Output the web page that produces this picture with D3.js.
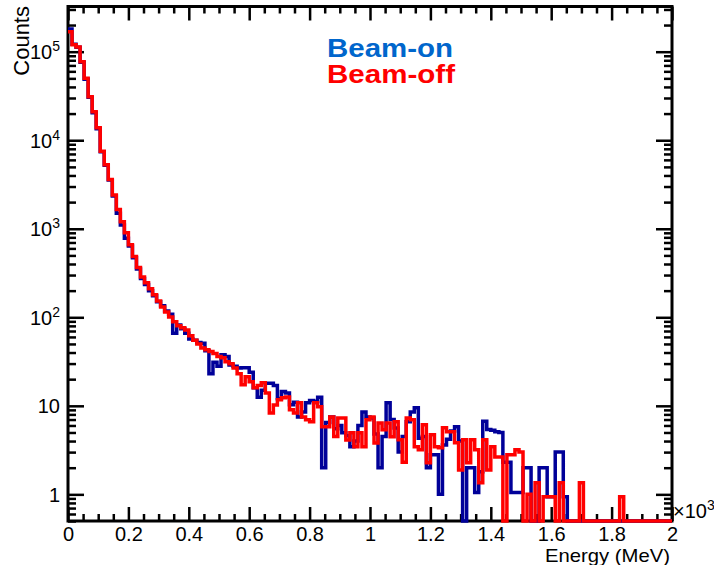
<!DOCTYPE html>
<html>
<head>
<meta charset="utf-8">
<script src="https://cdn.jsdelivr.net/npm/d3@7"></script>
<style>
  body { margin: 0; background: #fff; }
  text { font-family: "Liberation Sans", Arial, Helvetica, sans-serif; }
</style>
</head>
<body>
<svg id="chart" width="714" height="565"></svg>
<script>
// histogram binning (keV)
const nBins = 150
const eMin = 0
const eMax = 2000

// counts per bin
const beamOn = [
  180000, 121000, 112000, 76000, 49000, 30500, 20500, 13500, 7400, 5200,
  3550, 2350, 1500, 1100, 780, 640, 470, 350, 275, 235,
  200, 175, 150, 135, 118, 108, 66, 82, 74, 66,
  57, 55, 52, 51, 42, 23, 31, 28, 37.7, 36,
  29, 28, 26.8, 27, 27, 24, 16, 12.5, 15, 18,
  18, 17, 12, 14.5, 14, 10.3, 11, 7.5, 8.5, 10.8,
  11.5, 11.2, 12.5, 2.0, 6.5, 7.5, 5.5, 6, 4.95, 4.6,
  3.44, 4.0, 6, 8.5, 7.5, 7.3, 4.8, 2.0, 4.5, 10.8,
  7, 5.6, 3.0, 4.5, 6.6, 8.5, 9.5, 4.3, 4.5, 2.0,
  2.8, 2.8, 1.0, 3.6, 4.2, 5.2, 5.8, 4.0, 0, 2.0,
  2.0, 1.05, 1.8, 6.7, 5.4, 5.3, 5.1, 5.0, 2.3, 2.3,
  1.05, 1.05, 1.05, 2.0, 2.0, 0, 0, 2.0, 2.0, 0.94,
  0.94, 3.0, 3.0, 0.94, 0, 0, 0, 0, 0, 0,
  0, 0, 0, 0, 0, 0, 0, 0, 0, 0,
  0, 0, 0, 0, 0, 0, 0, 0, 0, 0
]

const beamOff = [
  168000, 120000, 113000, 77000, 50000, 31000, 21000, 13800, 7500, 5300,
  3600, 2400, 1650, 1200, 900, 660, 485, 365, 285, 245,
  210, 180, 153, 131, 115, 101, 89, 80, 76, 72,
  62, 55, 50, 45, 43, 41, 39, 36, 35, 31.4,
  29.8, 26.8, 23, 17.3, 21.3, 18.7, 16, 17, 18.2, 14,
  8.3, 10.2, 11.7, 12.3, 12.6, 9.0, 8.3, 10.8, 7.5, 6.95,
  6.6, 10.8, 9.75, 5.8, 5.8, 7.5, 4.5, 7.3, 7.3, 4.1,
  4.95, 3.44, 4.95, 3.44, 6.95, 7.5, 3.8, 6.4, 5.35, 6.4,
  4.47, 6.6, 4.13, 2.3, 7.3, 6.95, 3.44, 3.18, 6.1, 2.27,
  4.7, 3.44, 3.35, 5.65, 5.1, 5.1, 3.82, 1.89, 4.13, 2.27,
  4.13, 3.18, 1.35, 4.13, 1.89, 3.44, 2.65, 2.65, 0, 2.8,
  2.8, 3.18, 3.0, 0, 1.0, 0, 1.35, 0, 0.94, 0.94,
  0.94, 0, 1.35, 0, 0, 0, 0, 1.35, 0, 0,
  0, 0, 0, 0, 0, 0, 0, 0.94, 0, 0,
  0, 0, 0, 0, 0, 0, 0, 0, 0, 0
]

const xMajor = [0, 200, 400, 600, 800, 1000, 1200, 1400, 1600, 1800, 2000]
const xLabels = ['0', '0.2', '0.4', '0.6', '0.8', '1', '1.2', '1.4', '1.6', '1.8', '2']
const yMajor = [1, 10, 100, 1000, 10000, 100000]
const yLabelBase = ['1', '10', '10', '10', '10', '10']
const yLabelExp = ['', '', '2', '3', '4', '5']

const yMin = 0.5
const yMax = 324000

const svg = d3.select('#chart')
const xScale = d3.scaleLinear().domain([eMin, eMax]).range([68, 672])
const yScale = d3.scaleLog().domain([yMin, yMax]).range([521, 6.5])

// minor ticks
let xMinor = d3.range(eMin, eMax + 1, 50).filter(v => v % 200 !== 0)
let yMinor = []
for (let d = 0.1; d <= 100000; d *= 10) {
  for (let m = 2; m <= 9; m++) {
    let v = +(m * d).toPrecision(3)
    if (v >= yMin && v <= yMax) yMinor.push(v)
  }
}

function addAxis (axis, transform) {
  let g = svg.append('g').attr('transform', transform).call(axis)
  g.select('.domain').remove()
  g.selectAll('line').attr('stroke', '#000').attr('stroke-width', 2.5)
  return g
}

// bottom
let xAxis = addAxis(d3.axisBottom(xScale).tickValues(xMajor).tickSizeInner(-14).tickSizeOuter(0)
  .tickPadding(6).tickFormat((d, i) => xLabels[i]), 'translate(0,521)')
xAxis.selectAll('text').attr('font-size', 20).attr('fill', '#000')
addAxis(d3.axisBottom(xScale).tickValues(xMinor).tickSizeInner(-7).tickSizeOuter(0).tickFormat(''), 'translate(0,521)')
// top
addAxis(d3.axisTop(xScale).tickValues(xMajor).tickSizeInner(-14).tickSizeOuter(0).tickFormat(''), 'translate(0,6.5)')
addAxis(d3.axisTop(xScale).tickValues(xMinor).tickSizeInner(-7).tickSizeOuter(0).tickFormat(''), 'translate(0,6.5)')
// left
addAxis(d3.axisLeft(yScale).tickValues(yMajor).tickSizeInner(-16).tickSizeOuter(0).tickFormat(''), 'translate(68,0)')
addAxis(d3.axisLeft(yScale).tickValues(yMinor).tickSizeInner(-8).tickSizeOuter(0).tickFormat(''), 'translate(68,0)')
// right
addAxis(d3.axisRight(yScale).tickValues(yMajor).tickSizeInner(-16).tickSizeOuter(0).tickFormat(''), 'translate(672,0)')
addAxis(d3.axisRight(yScale).tickValues(yMinor).tickSizeInner(-8).tickSizeOuter(0).tickFormat(''), 'translate(672,0)')

// y labels with exponents
let yl = svg.append('g').selectAll('text').data(yMajor).enter()
  .append('text')
  .attr('x', 60)
  .attr('y', d => yScale(d) + 7.5)
  .attr('text-anchor', 'end')
  .attr('font-size', 20)
yl.append('tspan').text((d, i) => yLabelBase[i])
yl.append('tspan').attr('font-size', 14).attr('dy', -8).text((d, i) => yLabelExp[i])

// frame
svg.append('rect')
  .attr('x', xScale(eMin)).attr('y', yScale(yMax))
  .attr('width', xScale(eMax) - xScale(eMin))
  .attr('height', yScale(yMin) - yScale(yMax))
  .attr('fill', 'none').attr('stroke', '#000').attr('stroke-width', 3)

// histograms
const edges = d3.range(nBins + 1).map(i => eMin + i * (eMax - eMin) / nBins)
const stepLine = d3.line()
  .x(d => xScale(d[0]))
  .y(d => yScale(Math.max(d[1], yMin)))
  .curve(d3.curveStepAfter)

function histPoints (values) {
  let pts = values.map((v, i) => [edges[i], v])
  pts.push([edges[nBins], values[nBins - 1]])
  return pts
}

svg.append('path').attr('d', stepLine(histPoints(beamOn)))
  .attr('fill', 'none').attr('stroke', '#000099').attr('stroke-width', 3.5)
svg.append('path').attr('d', stepLine(histPoints(beamOff)))
  .attr('fill', 'none').attr('stroke', '#ff0000').attr('stroke-width', 3.5)

// legend
svg.append('text').attr('x', 327).attr('y', 57)
  .attr('font-size', 25).attr('font-weight', 'bold').attr('fill', '#0066cc')
  .attr('textLength', 126).attr('lengthAdjust', 'spacingAndGlyphs')
  .text('Beam-on')
svg.append('text').attr('x', 327).attr('y', 83)
  .attr('font-size', 25).attr('font-weight', 'bold').attr('fill', '#ff0000')
  .attr('textLength', 128).attr('lengthAdjust', 'spacingAndGlyphs')
  .text('Beam-off')

// axis titles
svg.append('text')
  .attr('transform', 'translate(29,6) rotate(-90)')
  .attr('text-anchor', 'end').attr('font-size', 22)
  .text('Counts')
svg.append('text')
  .attr('x', 670).attr('y', 562)
  .attr('text-anchor', 'end').attr('font-size', 19)
  .attr('textLength', 125).attr('lengthAdjust', 'spacingAndGlyphs')
  .text('Energy (MeV)')
let mult = svg.append('text').attr('x', 673).attr('y', 518).attr('font-size', 20)
mult.append('tspan').text('×10')
mult.append('tspan').attr('font-size', 14).attr('dy', -8).text('3')
</script>
</body>
</html>
